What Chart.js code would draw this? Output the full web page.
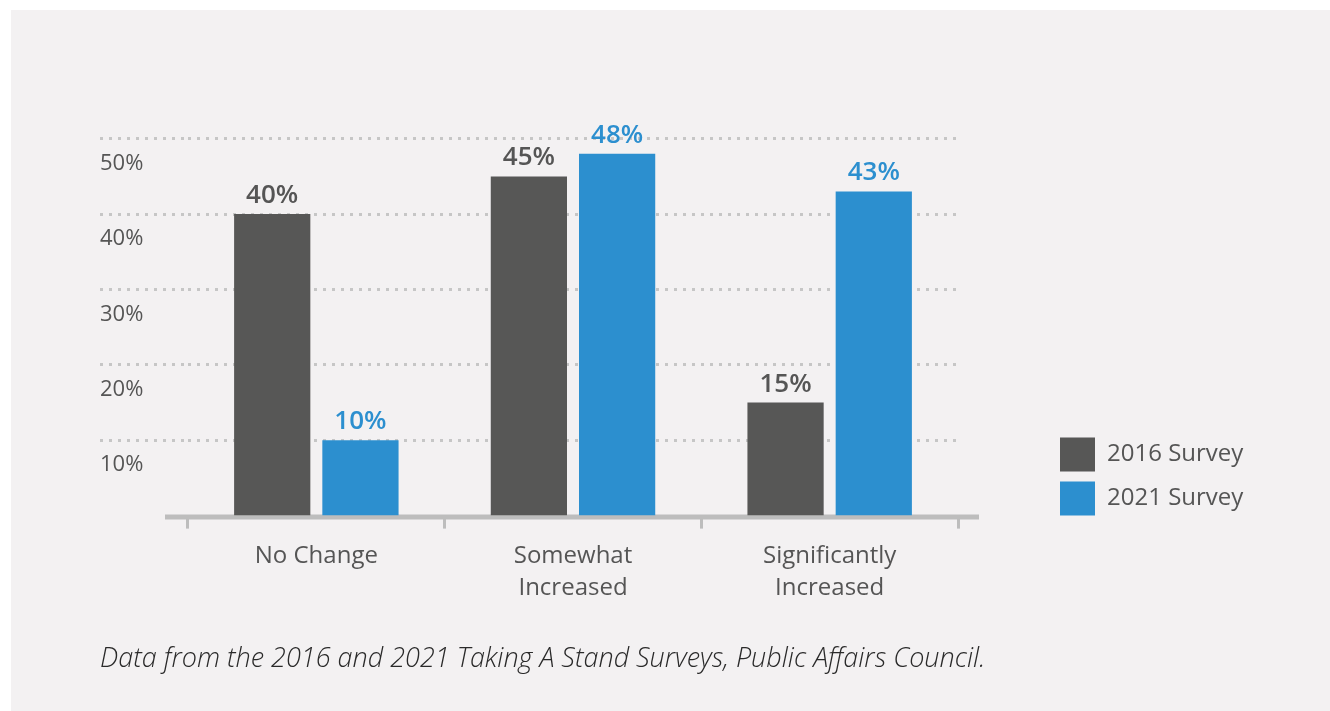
<!DOCTYPE html>
<html>
<head>
<meta charset="utf-8">
<script src="https://cdn.jsdelivr.net/npm/chart.js@4"></script>
<style>
  html, body { margin: 0; padding: 0; background: #fff; }
  #wrap { width: 1330px; height: 711px; }
</style>
</head>
<body>
<div id="wrap"><canvas id="chart" width="1330" height="711"></canvas></div>
<script>
// Datos
const categories = [["No Change"], ["Somewhat", "Increased"], ["Significantly", "Increased"]];
const seriesNames = ["2016 Survey", "2021 Survey"];
const survey2016 = [40, 45, 15];
const survey2021 = [10, 48, 43];
const yTicks = [10, 20, 30, 40, 50];
const caption = "Data from the 2016 and 2021 Taking A Stand Surveys, Public Affairs Council.";

const dark = "#575756";
const blue = "#2c8fcf";
const textColor = "#555555";
const fontFamily = "'Open Sans', 'Noto Sans', sans-serif";

Chart.defaults.font.family = fontFamily;
Chart.defaults.color = textColor;

// Fondo gris con borde blanco
const panelBg = {
  id: "panelBg",
  beforeDraw(chart) {
    const ctx = chart.ctx;
    ctx.save();
    ctx.fillStyle = "#ffffff";
    ctx.fillRect(0, 0, chart.width, chart.height);
    ctx.fillStyle = "#f3f1f2";
    ctx.fillRect(11, 10, chart.width - 11, chart.height - 10);
    ctx.restore();
  }
};

// Línea base gruesa, un poco más larga que el área del gráfico
const baseLine = {
  id: "baseLine",
  beforeDatasetsDraw(chart) {
    const { ctx, chartArea, scales } = chart;
    const y = scales.y.getPixelForValue(0) + 1.5;
    ctx.save();
    ctx.strokeStyle = "#bdbdbd";
    ctx.lineWidth = 5;
    ctx.beginPath();
    ctx.moveTo(chartArea.left - 23, y);
    ctx.lineTo(chartArea.right + 21, y);
    ctx.stroke();
    ctx.restore();
  }
};

// Etiquetas de valor encima de cada barra
const valueLabels = {
  id: "valueLabels",
  afterDatasetsDraw(chart) {
    const ctx = chart.ctx;
    ctx.save();
    ctx.font = "600 26px " + fontFamily;
    ctx.textAlign = "center";
    ctx.textBaseline = "alphabetic";
    chart.data.datasets.forEach((ds, i) => {
      const meta = chart.getDatasetMeta(i);
      ctx.fillStyle = i === 0 ? textColor : blue;
      meta.data.forEach((bar, j) => {
        ctx.fillText(ds.data[j] + "%", bar.x, bar.y - 11);
      });
    });
    ctx.restore();
  }
};

// Bajar la leyenda para alinearla con la base (y darle margen a la derecha)
const legendShift = {
  id: "legendShift",
  afterLayout(chart) {
    const pad = chart.options.plugins.legend.labels.padding;
    chart.legend.top += pad;
    chart.legend.bottom += pad;
    chart.legend.right += 30;
  }
};

const ctx = document.getElementById("chart").getContext("2d");

new Chart(ctx, {
  type: "bar",
  data: {
    labels: categories,
    datasets: [
      { label: seriesNames[0], data: survey2016, backgroundColor: dark },
      { label: seriesNames[1], data: survey2021, backgroundColor: blue }
    ]
  },
  options: {
    responsive: false,
    animation: false,
    categoryPercentage: 0.6875,
    barPercentage: 0.864,
    layout: {
      padding: { left: 100, top: 101, right: 90, bottom: 35 }
    },
    plugins: {
      tooltip: { enabled: false },
      legend: {
        position: "right",
        align: "end",
        fullSize: false,
        labels: {
          boxWidth: 35,
          boxHeight: 34,
          padding: 10,
          color: textColor,
          font: { size: 24 }
        }
      },
      title: {
        display: true,
        position: "bottom",
        align: "start",
        text: caption,
        color: "#2a2a2a",
        padding: { top: 18, bottom: 0 },
        font: { size: 27, style: "italic", weight: "300", lineHeight: 1.2 }
      }
    },
    scales: {
      x: {
        afterFit: s => { s.height = 110; },
        grid: {
          display: true,
          drawOnChartArea: false,
          drawTicks: true,
          tickLength: 13,
          lineWidth: 3,
          color: "#bdbdbd",
          offset: true
        },
        border: { display: false },
        ticks: {
          padding: 11,
          color: textColor,
          font: { size: 24, lineHeight: 1.35 }
        }
      },
      y: {
        min: 0,
        max: 55,
        afterFit: s => { s.width = 88; },
        afterBuildTicks: s => {
          s.ticks = yTicks.map(v => ({ value: v }));
        },
        grid: {
          display: true,
          drawTicks: true,
          tickLength: 88,
          lineWidth: 3,
          color: "#c6c6c6",
          tickBorderDash: [3, 6]
        },
        border: { display: false, dash: [3, 6] },
        ticks: {
          crossAlign: "far",
          padding: 0,
          labelOffset: 25,
          color: textColor,
          font: { size: 22 },
          callback: v => v + "%"
        }
      },
      y2: {
        position: "right",
        display: true,
        afterFit: s => { s.width = 92; },
        grid: { display: false },
        border: { display: false },
        ticks: { display: false }
      }
    }
  },
  plugins: [panelBg, baseLine, valueLabels, legendShift]
});
</script>
</body>
</html>
